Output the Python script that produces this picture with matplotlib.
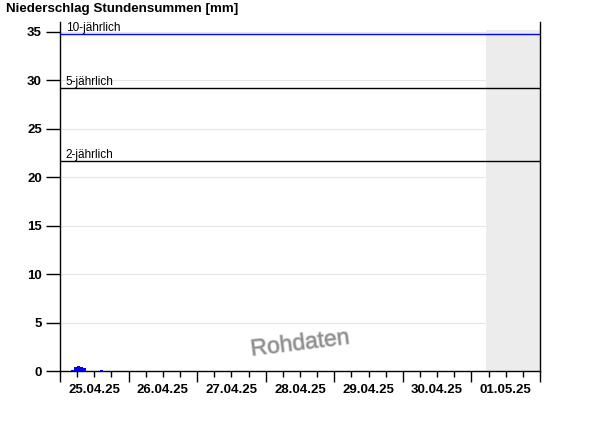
import matplotlib
matplotlib.use("Agg")
import matplotlib.pyplot as plt
import matplotlib.dates as mdates
import matplotlib.patheffects as pe
from matplotlib.ticker import FuncFormatter
from datetime import datetime, timedelta

plt.rcParams['font.family'] = ['Liberation Sans', 'DejaVu Sans']

# Data
bar_times = ["2025-04-25 04:00", "2025-04-25 05:00", "2025-04-25 06:00",
             "2025-04-25 07:00", "2025-04-25 08:00", "2025-04-25 14:00"]
bar_values = [0.1, 0.4, 0.5, 0.4, 0.3, 0.1]
thresholds = [34.8, 29.2, 21.7]
threshold_labels = ["10-jährlich", "5-jährlich", "2-jährlich"]
threshold_colors = ["#0000ff", "#000000", "#000000"]
x_start = "2025-04-25 00:00"
x_end = "2025-05-02 00:00"
forecast_start = "2025-05-01 05:15"
forecast_top = 35.2
y_ticks = [0, 5, 10, 15, 20, 25, 30, 35]

fmt = "%Y-%m-%d %H:%M"
t = [datetime.strptime(s, fmt) for s in bar_times]
x0 = datetime.strptime(x_start, fmt)
x1 = datetime.strptime(x_end, fmt)
fs = datetime.strptime(forecast_start, fmt)

fig = plt.figure(figsize=(6, 4.26), dpi=100)
ax = fig.add_axes([0.1, 0.129, 0.8, 0.819])

ax.set_xlim(x0, x1)
ax.set_ylim(0, 36)

# grid
for yv in y_ticks[1:]:
    ax.axhline(yv, color="#e6e6e6", lw=0.8, zorder=0)

# forecast gray area
ax.fill_between([fs, x1], 0, forecast_top, color="#ececec", lw=0, zorder=1)

# bars
ax.bar(t, bar_values, width=1/24, align='edge', color="#0000ff", lw=0, zorder=3)

# thresholds
for yv, lab, c in zip(thresholds, threshold_labels, threshold_colors):
    ax.axhline(yv, color=c, lw=1, zorder=4)
    ax.text(x0 + timedelta(hours=2), yv, lab, fontsize=8.5, va='bottom',
            ha='left', color="#000000", zorder=5)

# axes styling
ax.spines['top'].set_visible(False)
for s in ['left', 'right', 'bottom']:
    ax.spines[s].set_linewidth(1)
    ax.spines[s].set_color('black')

ax.set_yticks(y_ticks)
ax.tick_params(axis='y', length=10, width=1, pad=3, labelsize=9.5)
for lbl in ax.get_yticklabels():
    lbl.set_fontweight('bold')

ax.xaxis.set_major_locator(mdates.DayLocator())
ax.xaxis.set_major_formatter(FuncFormatter(lambda v, p: ""))
ax.xaxis.set_minor_locator(mdates.HourLocator(byhour=[6, 12, 18]))

def minor_fmt(v, p):
    d = mdates.num2date(v)
    return d.strftime("%d.%m.%y") if d.hour == 12 else ""

ax.xaxis.set_minor_formatter(FuncFormatter(minor_fmt))
ax.tick_params(axis='x', which='major', length=8, width=1)
ax.tick_params(axis='x', which='minor', length=4.5, width=1, pad=5, labelsize=9.5)
for lbl in ax.xaxis.get_minorticklabels():
    lbl.set_fontweight('bold')

# title
fig.text(6/600, 1 - 9/426, "Niederschlag Stundensummen [mm]", fontsize=9.6,
         fontweight='bold', ha='left', va='center')

# watermark
ax.text(0.5, 0.08, "Rohdaten", transform=ax.transAxes, fontsize=16.5,
        color="#909090", rotation=7, ha='center', va='center', zorder=6,
        path_effects=[pe.withStroke(linewidth=1.2, foreground="#d0d0d0")])

fig.savefig("out.png", dpi=100)
